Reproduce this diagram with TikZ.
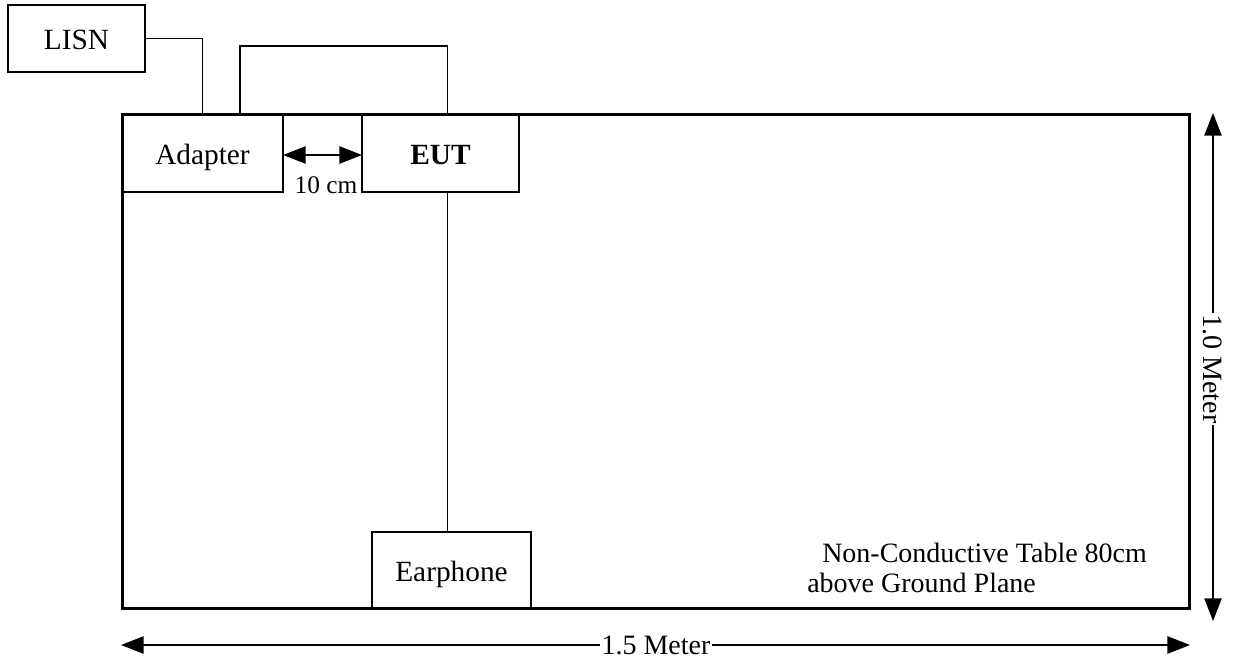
\documentclass[tikz,border=0pt]{standalone}
\usepackage{fontspec}
\setmainfont{Liberation Serif}
\usetikzlibrary{arrows.meta}
\usetikzlibrary{calc}

\begin{document}
\begin{tikzpicture}[x=0.75pt,y=-0.75pt,
  box/.style={draw,line width=1.5pt,fill=white,inner sep=0pt,outer sep=0pt,text height=16.5pt,text depth=0pt,font=\fontsize{22}{25}\selectfont},
  wire/.style={line width=0.8pt},
  dim/.style={line width=1.1pt,{Triangle[length=17pt,width=13pt]}-{Triangle[length=17pt,width=13pt]}},
  lbl/.style={font=\fontsize{21}{24}\selectfont,inner sep=0pt}]
\useasboundingbox (0,0) rectangle (1237,661);
% the boxes
\node[box,minimum width=102.75pt,minimum height=50.25pt] (lisn) at (76.5,38.5) {LISN};
\node[box,minimum width=120.75pt,minimum height=58.5pt] (adapter) at (202.5,153) {Adapter};
\node[box,minimum width=117.75pt,minimum height=58.5pt] (eut) at (440.5,153) {\bfseries EUT};
\node[box,minimum width=119.25pt,minimum height=57.75pt] (phone) at (451.5,570) {Earphone};
% cables
\draw[wire] (lisn.east) -| (adapter.north);
\draw[wire] ([xshift=28.1pt]adapter.north) -- ++(0,-68) -| ([xshift=4.9pt]eut.north);
\draw[wire] ([xshift=4.9pt]eut.south) -- ([xshift=4.9pt]eut.south |- phone.north);
% the table
\node[draw,line width=2.25pt,inner sep=0pt,outer sep=0pt,minimum width=800.25pt,minimum height=370.5pt] (table) at (655.5,361) {};
\node[lbl,anchor=base west] (note1) at (822,562) {Non-Conductive Table 80cm};
\node[lbl,anchor=base west] (note2) at (807,592) {above Ground Plane};
% 10 cm gap
\draw[dim] ([yshift=-1.5pt]adapter.east) -- ([yshift=-1.5pt]eut.west);
\node[font=\fontsize{19}{22}\selectfont,inner sep=0pt] (gap) at (326,185) {10 cm};
% size of the table
\coordinate (h1) at (121,645);
\coordinate (h2) at (1190,645);
\draw[dim] (h1) -- (h2);
\node[lbl,fill=white,inner sep=1pt] (hlen) at (656,645) {1.5 Meter};
\coordinate (v1) at (1213,113);
\coordinate (v2) at (1213,621);
\draw[dim] (v1) -- (v2);
\node[lbl,fill=white,inner sep=1pt,rotate=-90] (vlen) at (1213,369) {1.0 Meter};
\end{tikzpicture}
\end{document}
